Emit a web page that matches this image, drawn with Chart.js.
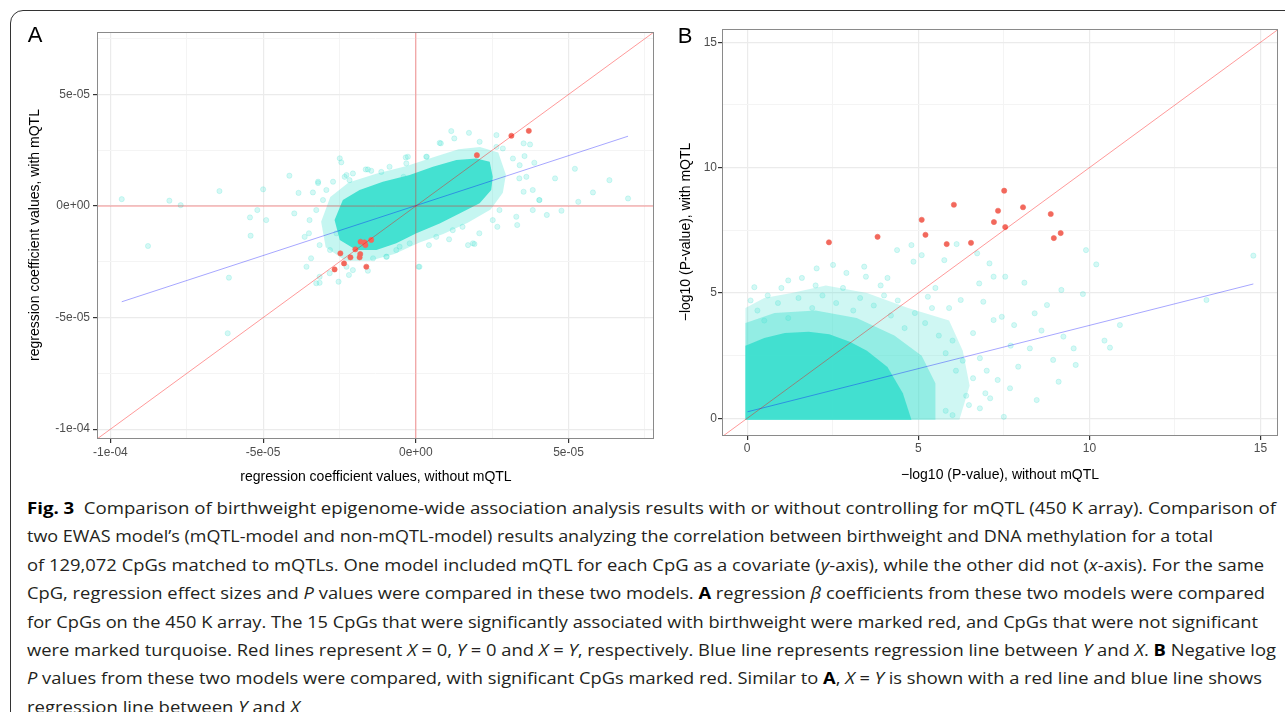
<!DOCTYPE html>
<html>
<head>
<meta charset="utf-8">
<script src="https://cdn.jsdelivr.net/npm/chart.js@4.4.0/dist/chart.umd.min.js"></script>
<style>
  html, body { margin: 0; padding: 0; background: #fff; }
  body { width: 1285px; height: 712px; position: relative; overflow: hidden; font-family: "Liberation Sans", Arial, sans-serif; }
  .frame { position: absolute; left: 10px; top: 10px; width: 1300px; height: 730px; border: 1.5px solid #333; border-radius: 13px; box-sizing: border-box; }
  canvas { position: absolute; top: 0; }
  #chartA { left: 0; }
  #chartB { left: 660px; }
  .lbl { position: absolute; font-size: 22px; color: #000; transform: translate(-50%, -50%); }
  .ttl { position: absolute; font-size: 14px; color: #000; white-space: nowrap; }
  .rot { transform: translate(-50%, -50%) rotate(-90deg); }
  .hor { transform: translate(-50%, -50%); }
  .cap { position: absolute; left: 27px; font-family: "Open Sans", sans-serif; font-size: 16.5px; color: #231f20; white-space: nowrap; transform-origin: 0 50%; line-height: 1; }
  .cap b { color: #000; }
</style>
</head>
<body>
<div class="frame"></div>
<canvas id="chartA" width="660" height="480"></canvas>
<canvas id="chartB" width="625" height="480"></canvas>

<div class="lbl" style="left:35px; top:35px;">A</div>
<div class="lbl" style="left:685px; top:36px;">B</div>
<div class="ttl rot" style="left:34px; top:235px;">regression coefficient values, with mQTL</div>
<div class="ttl hor" style="left:376px; top:476px;">regression coefficient values, without mQTL</div>
<div class="ttl rot" style="left:685px; top:232px;">−log10 (P-value), with mQTL</div>
<div class="ttl hor" style="left:1000px; top:474px;">−log10 (P-value), without mQTL</div>

<div class="cap"><b>Fig. 3</b>&nbsp; Comparison of birthweight epigenome-wide association analysis results with or without controlling for mQTL (450 K array). Comparison of</div>
<div class="cap">two EWAS model’s (mQTL-model and non-mQTL-model) results analyzing the correlation between birthweight and DNA methylation for a total</div>
<div class="cap">of 129,072 CpGs matched to mQTLs. One model included mQTL for each CpG as a covariate (<i>y</i>-axis), while the other did not (<i>x</i>-axis). For the same</div>
<div class="cap">CpG, regression effect sizes and <i>P</i> values were compared in these two models. <b>A</b> regression <i>β</i> coefficients from these two models were compared</div>
<div class="cap">for CpGs on the 450 K array. The 15 CpGs that were significantly associated with birthweight were marked red, and CpGs that were not significant</div>
<div class="cap">were marked turquoise. Red lines represent <i>X</i> = 0, <i>Y</i> = 0 and <i>X</i> = <i>Y</i>, respectively. Blue line represents regression line between <i>Y</i> and <i>X</i>. <b>B</b> Negative log</div>
<div class="cap"><i>P</i> values from these two models were compared, with significant CpGs marked red. Similar to <b>A</b>, <i>X</i> = <i>Y</i> is shown with a red line and blue line shows</div>
<div class="cap">regression line between <i>Y</i> and <i>X</i></div>

<script>
/* ---- panel A : regression coefficients ---- */
const aLim = [-104.4e-6, 78.0e-6];

// significant CpGs (red)
const aSigX = [31.3e-6, 37.0e-6, 20.0e-6, -18.1e-6, -16.8e-6, -14.6e-6, -16.5e-6, -19.8e-6, -24.7e-6, -21.4e-6, -18.2e-6, -18.4e-6, -23.5e-6, -26.6e-6, -16.2e-6];
const aSigY = [31.5e-6, 33.7e-6, 22.8e-6, -16.0e-6, -16.3e-6, -15.2e-6, -17.5e-6, -19.4e-6, -21.2e-6, -23.0e-6, -21.5e-6, -23.0e-6, -25.7e-6, -28.4e-6, -27.2e-6];

// scattered non-significant CpGs outside the dense cloud
const aOutX = [-96.3e-6, -80.7e-6, -77.0e-6, -64.3e-6, -87.7e-6, -61.2e-6, -61.6e-6, -54.3e-6, -51.9e-6, -50.0e-6,
  -49.0e-6, -54.1e-6, -41.4e-6, -38.4e-6, -33.7e-6, -32.0e-6, -39.8e-6, -35.0e-6, -34.3e-6, -31.5e-6,
  -25.3e-6, -24.9e-6, -23.3e-6, -16.4e-6, -3.3e-6, 3.6e-6, 8.2e-6, 11.6e-6, 12.6e-6, 17.4e-6,
  26.4e-6, 35.3e-6, 37.4e-6, 35.6e-6, 38.8e-6, 33.9e-6, 45.6e-6, 52.1e-6, 63.4e-6, 69.5e-6,
  58.0e-6, 53.2e-6, 47.7e-6, 42.9e-6, 40.4e-6, 35.3e-6, 33.2e-6, 26.7e-6, 20.8e-6, 19.2e-6,
  15.3e-6, 10.9e-6, 0.9e-6, 4.3e-6, -5.3e-6, -9.5e-6, -15.7e-6, -21.9e-6, -28.1e-6, -31.5e-6,
  -26.0e-6, -4.0e-6, 26.4e-6,
  -24.4e-6, -22.7e-6, -21.7e-6, -20.6e-6, -15.7e-6, -14.6e-6, -11.3e-6, -8.6e-6, -2.6e-6, -3.1e-6,
  3.4e-6, 7.8e-6, 20.9e-6, 28.5e-6, 31.8e-6, 34.0e-6, 36.2e-6, 38.3e-6, 40.5e-6, 38.3e-6,
  32.9e-6, 27.4e-6, 25.2e-6, 18.7e-6, 17.1e-6, 12.1e-6, 6.7e-6, 1.2e-6, -2.0e-6, -6.4e-6,
  -9.7e-6, -14.0e-6, -20.6e-6, -22.7e-6, -28.2e-6, -31.5e-6, -32.6e-6, -35.8e-6, -36.4e-6, -34.8e-6,
  -32.6e-6, -30.4e-6, -29.3e-6, -27.1e-6, -32.0e-6];
const aOutY = [3.1e-6, 2.4e-6, 0.4e-6, 6.7e-6, -17.9e-6, -32.1e-6, -57.0e-6, -5.1e-6, -1.8e-6, 7.5e-6,
  -6.3e-6, -13.3e-6, 13.6e-6, 5.9e-6, 6.1e-6, 10.3e-6, -3.3e-6, -12.2e-6, -23.4e-6, -34.4e-6,
  -33.9e-6, 21.4e-6, 13.1e-6, 16.4e-6, 21.8e-6, 22.1e-6, 28.1e-6, 33.6e-6, 30.3e-6, 32.8e-6,
  31.8e-6, 28.1e-6, 27.6e-6, 22.4e-6, 19.4e-6, 12.4e-6, 12.4e-6, 16.7e-6, 11.6e-6, 3.4e-6,
  6.1e-6, 1.9e-6, -2.1e-6, -4.0e-6, 2.7e-6, 6.4e-6, -8.5e-6, -9.3e-6, -12.2e-6, -17.0e-6,
  -9.3e-6, -14.9e-6, -27.2e-6, -17.5e-6, -18.2e-6, -22.7e-6, -29.0e-6, -30.9e-6, -19.7e-6, -17.5e-6,
  -12.2e-6, 13.1e-6, 26.5e-6,
  19.6e-6, 13.9e-6, 11.6e-6, 14.6e-6, 16.4e-6, 15.8e-6, 15.3e-6, 17.6e-6, 22.1e-6, 19.1e-6,
  22.1e-6, 28.3e-6, 28.8e-6, 25.8e-6, 21.3e-6, 18.3e-6, 13.1e-6, 7.2e-6, 2.7e-6, -1.8e-6,
  -4.8e-6, -1.8e-6, -6.3e-6, -16.7e-6, -17.5e-6, -10.8e-6, -13.8e-6, -27.2e-6, -16.7e-6, -19.7e-6,
  -22.7e-6, -23.4e-6, -28.7e-6, -27.2e-6, -30.1e-6, -31.7e-6, -34.6e-6, -27.2e-6, -13.8e-6, -6.3e-6,
  -1.8e-6, 2.7e-6, 7.2e-6, 10.9e-6, 10.9e-6];

// outline of the dense cloud (solid core and its thinner fringe)
const aCoreX = [-26.6e-6, -23.9e-6, -18.4e-6, -10.8e-6, -2.0e-6, 5.6e-6, 13.3e-6, 19.8e-6, 24.2e-6, 25.2e-6, 24.7e-6, 20.9e-6, 14.3e-6, 7.8e-6, 0.2e-6, -6.4e-6, -12.9e-6, -19.5e-6, -24.9e-6];
const aCoreY = [-6.3e-6, 2.7e-6, 7.2e-6, 10.9e-6, 13.9e-6, 17.6e-6, 20.6e-6, 21.3e-6, 19.8e-6, 13.1e-6, 7.2e-6, 1.2e-6, -3.3e-6, -7.8e-6, -12.2e-6, -16.7e-6, -19.7e-6, -19.7e-6, -15.2e-6];
const aMidX = [-31.0e-6, -28.0e-6, -22.0e-6, -13.0e-6, -3.0e-6, 6.0e-6, 14.0e-6, 21.0e-6, 27.0e-6, 29.5e-6, 28.5e-6, 24.5e-6, 17.0e-6, 9.0e-6, 1.0e-6, -7.0e-6, -15.0e-6, -23.0e-6, -29.5e-6];
const aMidY = [-7.0e-6, 4.0e-6, 10.5e-6, 14.5e-6, 18.0e-6, 22.0e-6, 25.5e-6, 26.5e-6, 24.0e-6, 14.0e-6, 6.0e-6, -1.5e-6, -7.5e-6, -12.5e-6, -16.5e-6, -21.5e-6, -24.5e-6, -24.5e-6, -18.5e-6];

// regression line Y ~ X
const aFitX = [-96.3e-6, 69.5e-6];
const aFitY = [-42.9e-6, 31.3e-6];

/* ---- panel B : -log10 P values ---- */
const bXLim = [-0.735, 15.51];
const bYLim = [-0.705, 15.53];

const bSigX = [7.51, 6.04, 5.10, 5.21, 7.33, 7.21, 8.06, 7.54, 8.87, 8.96, 9.16, 5.83, 6.54, 2.39, 3.81];
const bSigY = [9.08, 8.52, 7.92, 7.32, 8.28, 7.83, 8.42, 7.63, 8.15, 7.19, 7.39, 6.95, 7.00, 7.02, 7.24];

const bOutX = [0.21, 4.38, 4.86, 5.10, 6.12, 6.72, 7.08, 7.20, 7.54, 6.78, 9.90, 10.20, 14.79, 13.42, 10.89, 10.44, 10.60,
  9.81, 9.18, 8.76, 8.40, 8.10, 9.24, 9.54, 9.60, 8.94, 9.10, 8.46, 8.26, 7.92, 7.68, 7.50, 7.32, 6.96, 6.48, 6.00,
  7.80, 7.44, 7.20, 6.90, 6.24, 5.28, 5.76, 3.42, 2.51, 2.03, 4.80, 3.47, 1.00, 1.60, 0.60, 2.90, 5.50, 6.60, 5.90,
  4.10, 7.70, 8.60,
  0.3, 0.5, 0.9, 1.2, 1.5, 1.9, 2.2, 2.6, 2.8, 3.1, 3.3, 3.7, 3.9, 4.2, 4.4, 4.6, 4.9, 5.2, 5.4, 5.6,
  5.8, 6.0, 6.1, 6.3, 6.6, 6.8, 7.0, 6.4, 6.8, 7.1, 5.8, 0.1, 1.2, 2.0, 4.0];
const bOutY = [5.23, 6.71, 6.25, 6.51, 6.95, 6.58, 6.18, 5.65, 5.65, 5.38, 6.71, 6.14, 6.49, 4.72, 3.72, 3.10, 2.82,
  4.96, 5.12, 4.52, 4.19, 5.41, 3.26, 2.79, 2.13, 2.33, 1.46, 0.73, 2.79, 2.06, 1.20, 0.06, 1.53, 1.00, 0.53, 0.13,
  3.72, 4.05, 3.92, 4.65, 4.72, 4.85, 6.31, 6.05, 6.12, 5.98, 6.91, 5.65, 5.20, 5.60, 4.90, 5.80, 5.20, 3.40, 4.40,
  5.60, 2.90, 3.50,
  4.3, 3.9, 4.6, 4.0, 4.8, 4.4, 4.9, 4.6, 5.2, 4.3, 4.8, 4.5, 5.3, 4.1, 4.7, 3.6, 4.2, 3.8, 4.4, 3.3,
  2.6, 3.1, 1.9, 2.3, 1.6, 2.4, 1.9, 0.9, 0.4, 0.8, 0.3, 4.7, 5.5, 5.3, 4.9];

const bCoreX = [-0.05, -0.05, 0.5, 1.1, 1.8, 2.4, 3.0, 3.5, 4.1, 4.55, 4.8];
const bCoreY = [-0.06, 2.9, 3.2, 3.4, 3.45, 3.35, 3.05, 2.7, 2.05, 1.0, -0.06];
const bInnerX = [-0.05, -0.05, 0.8, 2.0, 3.2, 4.3, 5.1, 5.5, 5.5];
const bInnerY = [-0.06, 3.8, 4.2, 4.3, 4.0, 3.3, 2.5, 1.4, -0.06];
const bMidX = [-0.05, -0.05, 0.5, 1.3, 2.3, 3.5, 4.7, 5.9, 6.3, 6.5, 6.2];
const bMidY = [-0.06, 4.4, 4.8, 5.0, 5.3, 5.0, 4.4, 3.9, 2.7, 1.3, -0.06];

const bFitX = [0.01, 14.79];
const bFitY = [0.26, 5.36];

// caption line ends (right edge of each line, px)
const capEnds = [1276, 1213, 1264, 1265, 1258, 1276, 1262, 300];

/* ---- styles ---- */
const lineRed = 'rgba(255, 0, 0, 0.4)';
const lineBlue = 'rgba(0, 0, 255, 0.35)';
const sigRed = '#F2685C';
const dotFill = 'rgba(64, 224, 208, 0.22)';
const dotEdge = 'rgba(64, 224, 208, 0.35)';
const tickFont = "'Liberation Sans', Arial, sans-serif";

function pts(xs, ys) {
    return xs.map((x, i) => ({ x: x, y: ys[i] }));
}
function poly(xs, ys) {
    const p = pts(xs, ys);
    p.push(p[0]);
    return p;
}
function fmtSci(v) {
    if (Math.abs(v) < 1e-12) v = 0;
    const m = v.toExponential(0).match(/^(-?\d)e([+-])(\d+)$/);
    return m[1] + 'e' + m[2] + m[3].padStart(2, '0');
}

function areaSet(data, color, order) {
    return { data: data, showLine: true, fill: 'shape', backgroundColor: color, borderWidth: 0,
        borderColor: 'rgba(0,0,0,0)', pointRadius: 0, tension: 0, order: order };
}
function lineSet(data, color) {
    return { data: data, showLine: true, fill: false, borderColor: color, borderWidth: 1, pointRadius: 0, order: 1 };
}
function dotSet(data, fillCol, edgeCol, order) {
    return { data: data, showLine: false, pointRadius: 2.6, pointBackgroundColor: fillCol,
        pointBorderColor: edgeCol, pointBorderWidth: 0.6, order: order };
}

// ggplot like panel border
const panelBox = {
    id: 'panelBox',
    afterDatasetsDraw(chart) {
        const a = chart.chartArea, c = chart.ctx;
        c.save();
        c.strokeStyle = '#8a8a8a';
        c.lineWidth = 1;
        c.strokeRect(a.left + 0.5, a.top + 0.5, a.right - a.left - 1, a.bottom - a.top - 1);
        c.restore();
    }
};

function axis(lim, step, isMajor, fmt, size, fontSize, pad, horizontal) {
    return {
        type: 'linear', min: lim[0], max: lim[1],
        afterFit: s => { if (horizontal) s.height = size; else s.width = size; },
        ticks: {
            stepSize: step, includeBounds: false, autoSkip: false, maxRotation: 0, padding: pad,
            color: '#4d4d4d', font: { family: tickFont, size: fontSize },
            callback: v => isMajor(v) ? fmt(v) : ''
        },
        grid: {
            color: ctx => (ctx.tick && isMajor(ctx.tick.value)) ? '#ebebeb' : '#f4f4f4',
            lineWidth: ctx => (ctx.tick && isMajor(ctx.tick.value)) ? 1.2 : 1,
            tickLength: 4,
            tickColor: ctx => (ctx.tick && isMajor(ctx.tick.value)) ? '#333' : 'rgba(0,0,0,0)'
        },
        border: { display: false }
    };
}

const majorA = v => Math.abs(Math.round(v / 2.5e-5)) % 2 === 0;
const majorB = v => Math.abs(Math.round(v / 2.5)) % 2 === 0;

/* chart A */
const chartA = new Chart(document.getElementById('chartA'), {
    type: 'scatter',
    data: {
        datasets: [
            lineSet([{ x: aLim[0], y: aLim[0] }, { x: aLim[1], y: aLim[1] }], lineRed),
            lineSet([{ x: 0, y: aLim[0] }, { x: 0, y: aLim[1] }], lineRed),
            lineSet([{ x: aLim[0], y: 0 }, { x: aLim[1], y: 0 }], lineRed),
            lineSet(pts(aFitX, aFitY), lineBlue),
            dotSet(pts(aSigX, aSigY), sigRed, sigRed, 2),
            dotSet(pts(aOutX, aOutY), dotFill, dotEdge, 3),
            areaSet(poly(aCoreX, aCoreY), 'rgba(64,224,208,0.97)', 4),
            areaSet(poly(aMidX, aMidY), 'rgba(64,224,208,0.3)', 5)
        ]
    },
    options: {
        responsive: false, animation: false, events: [],
        layout: { padding: { top: 32, right: 6, left: 0, bottom: 0 } },
        plugins: { legend: { display: false }, tooltip: { enabled: false } },
        scales: {
            x: axis(aLim, 2.5e-5, majorA, fmtSci, 41, 12, 2, true),
            y: axis(aLim, 2.5e-5, majorA, fmtSci, 97, 12, 3, false)
        }
    },
    plugins: [panelBox]
});

/* chart B */
const chartB = new Chart(document.getElementById('chartB'), {
    type: 'scatter',
    data: {
        datasets: [
            lineSet([{ x: bXLim[0], y: bXLim[0] }, { x: bXLim[1], y: bXLim[1] }], lineRed),
            lineSet(pts(bFitX, bFitY), lineBlue),
            dotSet(pts(bSigX, bSigY), sigRed, sigRed, 2),
            dotSet(pts(bOutX, bOutY), dotFill, dotEdge, 3),
            areaSet(poly(bCoreX, bCoreY), 'rgba(64,224,208,0.97)', 4),
            areaSet(poly(bInnerX, bInnerY), 'rgba(64,224,208,0.42)', 5),
            areaSet(poly(bMidX, bMidY), 'rgba(64,224,208,0.25)', 6)
        ]
    },
    options: {
        responsive: false, animation: false, events: [],
        layout: { padding: { top: 29, right: 7, left: 0, bottom: 0 } },
        plugins: { legend: { display: false }, tooltip: { enabled: false } },
        scales: {
            x: axis(bXLim, 2.5, majorB, v => String(Math.round(v)), 44, 12, 1, true),
            y: axis(bYLim, 2.5, majorB, v => String(Math.round(v)), 62, 12, 1, false)
        }
    },
    plugins: [panelBox]
});

/* caption: fit each line to its width in the original */
const capLines = document.querySelectorAll('.cap');
capLines.forEach((el, i) => {
    const w = el.getBoundingClientRect().width;
    const sx = (capEnds[i] - 27) / w;
    el.style.top = (508 + i * 28.4) + 'px';
    el.style.transform = 'translateY(-50%) scaleX(' + sx + ')';
});
</script>
</body>
</html>
